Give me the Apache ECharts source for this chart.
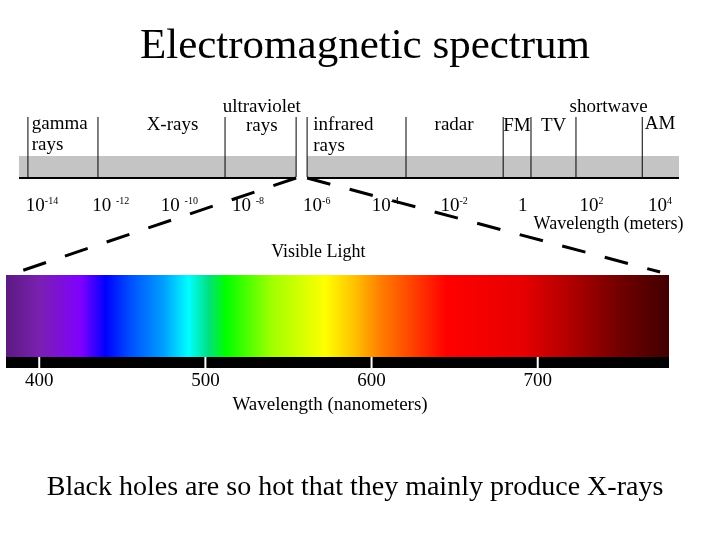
<!DOCTYPE html>
<html><head><meta charset="utf-8">
<script src="https://cdn.jsdelivr.net/npm/echarts@6/dist/echarts.min.js"></script>
<style>html,body{margin:0;background:#fff}#c{width:720px;height:540px}</style>
</head><body><div id="c"></div>
<script>
// --- data (log10 of wavelength in metres, and nanometres) ---
const bandSegments = [[-14.67, -6.6], [-6.28, 4.55]];
const boundaries = [-14.41, -12.37, -8.67, -6.6, -6.28, -3.4, -0.57, 0.24, 1.55, 3.48];
const regionLabels = [
  ['gamma', -14.3, 124, 'left'], ['rays', -14.3, 145, 'left'],
  ['X-rays', -10.2, 125, 'center'],
  ['ultraviolet', -7.6, 107, 'center'], ['rays', -7.6, 126, 'center'],
  ['infrared', -6.1, 125, 'left'], ['rays', -6.1, 146, 'left'],
  ['radar', -2.0, 125, 'center'],
  ['FM', -0.17, 126, 'center'], ['TV', 0.9, 126, 'center'],
  ['shortwave', 2.5, 107, 'center'], ['AM', 4.0, 124, 'center']
];
const tickExps = [-14, -12, -10, -8, -6, -4, -2, 0, 2, 4];
const tickLabels = ['10{s|-14}', '10 {s|-12}', '10 {s|-10}', '10 {s|-8}', '10{s|-6}', '10{s|-4}', '10{s|-2}', '1', '10{s|2}', '10{s|4}'];
const dashedLines = [[-6.6, 178, -14.7, 272], [-6.28, 178, 4.0, 272]];
const nmRange = [380, 779];
const nmTicks = [400, 500, 600, 700];
const spectrumStops = [
  [380, '#5a1a80'], [400, '#7a20b0'], [425, '#8000ff'], [440, '#0000ff'], [455, '#0050ff'],
  [475, '#00a0ff'], [490, '#00ffff'], [502, '#00e080'], [512, '#00ff00'], [540, '#a0ff00'],
  [572, '#ffff00'], [590, '#ffc000'], [605, '#ff8000'], [625, '#ff4000'], [645, '#ff0000'],
  [690, '#e80000'], [720, '#b00000'], [750, '#700000'], [779, '#400000']
];

const serif = 'Liberation Serif';
const chart = echarts.init(document.getElementById('c'));
const grad = new echarts.graphic.LinearGradient(0, 0, 1, 0,
  spectrumStops.map(s => ({offset: (s[0] - nmRange[0]) / (nmRange[1] - nmRange[0]), color: s[1]})));

function yAxis(i) { return {gridIndex: i, type: 'value', min: 0, max: 540, inverse: true, show: false}; }
function text(api, x, y, t, align, size, rich) {
  return {type: 'text', style: {x, y, text: t, fill: '#000',
    fontFamily: serif, fontSize: size, align: align, verticalAlign: 'middle', rich: rich}};
}

chart.setOption({
  animation: false,
  title: [
    {text: 'Electromagnetic spectrum', left: 360, textAlign: 'center', top: 20,
     textStyle: {fontFamily: serif, fontSize: 43, fontWeight: 'normal', color: '#000'}},
    {text: 'Black holes are so hot that they mainly produce X-rays', left: 350, textAlign: 'center', top: 469,
     textStyle: {fontFamily: serif, fontSize: 28, fontWeight: 'normal', color: '#000'}}
  ],
  grid: [
    {left: 19, width: 660, top: 0, height: 540},
    {left: 6, width: 663, top: 0, height: 540}
  ],
  xAxis: [
    {gridIndex: 0, type: 'value', min: -14.67, max: 4.55, show: false},
    {gridIndex: 1, type: 'value', min: nmRange[0], max: nmRange[1], show: false}
  ],
  yAxis: [yAxis(0), yAxis(1)],
  series: [
    {type: 'custom', xAxisIndex: 0, yAxisIndex: 0, data: bandSegments,
     renderItem: (p, api) => {
       const a = api.coord([api.value(0), 156]), b = api.coord([api.value(1), 177]);
       return {type: 'group', children: [
         {type: 'rect', shape: {x: a[0], y: a[1], width: b[0] - a[0], height: b[1] - a[1]}, style: {fill: '#c4c4c4'}},
         {type: 'rect', shape: {x: a[0], y: b[1], width: b[0] - a[0], height: 2}, style: {fill: '#000'}}
       ]};
     }},
    {type: 'custom', xAxisIndex: 0, yAxisIndex: 0, data: boundaries.map(v => [v]),
     renderItem: (p, api) => {
       const a = api.coord([api.value(0), 117]), b = api.coord([api.value(0), 177]);
       return {type: 'line', shape: {x1: a[0], y1: a[1], x2: b[0], y2: b[1]}, style: {stroke: '#000', lineWidth: 1}};
     }},
    {type: 'custom', xAxisIndex: 0, yAxisIndex: 0, data: dashedLines,
     renderItem: (p, api) => {
       const a = api.coord([api.value(0), api.value(1)]), b = api.coord([api.value(2), api.value(3)]);
       return {type: 'line', shape: {x1: a[0], y1: a[1], x2: b[0], y2: b[1]},
         style: {stroke: '#000', lineWidth: 3, lineDash: [24, 20]}};
     }},
    {type: 'custom', xAxisIndex: 0, yAxisIndex: 0, data: regionLabels.map(r => [r[1], r[2]]),
     renderItem: (p, api) => {
       const r = regionLabels[p.dataIndex];
       const c = api.coord([r[1], r[2]]);
       return text(api, c[0], c[1], r[0], r[3], 19);
     }},
    {type: 'custom', xAxisIndex: 0, yAxisIndex: 0, data: tickExps.map(v => [v, 206]),
     renderItem: (p, api) => {
       const c = api.coord([api.value(0), api.value(1)]);
       return text(api, c[0], c[1], tickLabels[p.dataIndex], 'center', 19,
         {s: {fontFamily: serif, fontSize: 10, verticalAlign: 'top', padding: [0, 0, 10, 0], color: '#000'}});
     }},
    {type: 'custom', xAxisIndex: 0, yAxisIndex: 0, data: [[2.5, 224]],
     renderItem: (p, api) => {
       const c = api.coord([api.value(0), api.value(1)]);
       return text(api, c[0], c[1], 'Wavelength (meters)', 'center', 18);
     }},
    {type: 'custom', xAxisIndex: 1, yAxisIndex: 1, data: [nmRange],
     renderItem: (p, api) => {
       const a = api.coord([api.value(0), 275]), b = api.coord([api.value(1), 357]), d = api.coord([api.value(1), 368]);
       return {type: 'group', children: [
         {type: 'rect', shape: {x: a[0], y: a[1], width: b[0] - a[0], height: b[1] - a[1]}, style: {fill: grad}},
         {type: 'rect', shape: {x: a[0], y: b[1], width: b[0] - a[0], height: d[1] - b[1]}, style: {fill: '#000'}}
       ]};
     }},
    {type: 'custom', xAxisIndex: 1, yAxisIndex: 1, data: nmTicks.map(v => [v]),
     renderItem: (p, api) => {
       const a = api.coord([api.value(0), 357]), b = api.coord([api.value(0), 368]);
       const t = api.coord([api.value(0), 381]);
       return {type: 'group', children: [
         {type: 'line', shape: {x1: a[0], y1: a[1], x2: b[0], y2: b[1]}, style: {stroke: '#fff', lineWidth: 2}},
         text(api, t[0], t[1], String(api.value(0)), 'center', 19)
       ]};
     }},
    {type: 'custom', xAxisIndex: 1, yAxisIndex: 1, data: [[575, 405], [568, 252]],
     renderItem: (p, api) => {
       const c = api.coord([api.value(0), api.value(1)]);
       return text(api, c[0], c[1], p.dataIndex === 0 ? 'Wavelength (nanometers)' : 'Visible Light', 'center', p.dataIndex === 0 ? 19 : 18);
     }}
  ]
});
</script></body></html>
